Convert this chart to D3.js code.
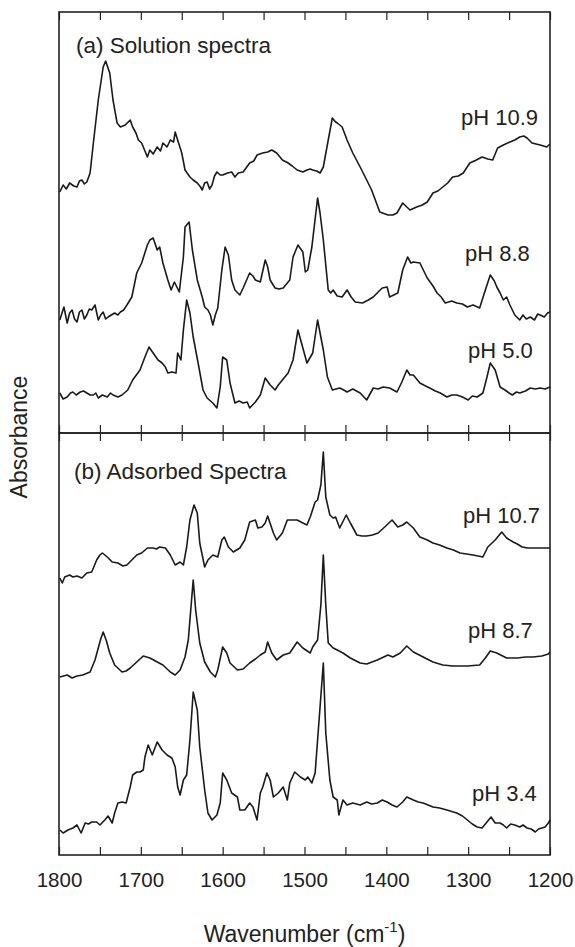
<!DOCTYPE html>
<html>
  <head>
    <meta charset="utf-8">
    <title>IR spectra</title>
    <script type="text/javascript" src="https://d3js.org/d3.v7.min.js"></script>
    <style>
      body{margin:0;background:#fff;}
      text{font-family:"Liberation Sans",Arial,Helvetica,sans-serif;fill:#222;}
    </style>
  </head>
  <body>
    <svg width="575" height="947"></svg>
    <script>
    	// x ticks (wavenumber, cm-1)
    	var xTicks = [1800,1750,1700,1650,1600,1550,1500,1450,1400,1350,1300,1250,1200];
    	var xTickLabels = [1800,1700,1600,1500,1400,1300,1200];

    	// (a) solution spectra : [wavenumber, absorbance (a.u., stacked)]
    	var sol109 = [[1799,241],[1795,248],[1791,244],[1787,250],[1782,247],[1778,246],[1775,252],[1772,253],[1769,249],[1766,251],[1762,260],[1758,290],[1752,333],[1746,366],[1743,372],[1738,360],[1734,333],[1729,310],[1725,306],[1719,308],[1713,313],[1710,306],[1706,300],[1703,293],[1699,290],[1695,282],[1692,276],[1689,283],[1685,279],[1680,286],[1676,282],[1673,290],[1668,286],[1664,293],[1660,291],[1658,301],[1655,293],[1650,280],[1646,263],[1640,256],[1636,253],[1631,250],[1627,246],[1625,243],[1622,250],[1619,251],[1616,244],[1613,248],[1610,257],[1607,261],[1603,258],[1600,258],[1594,260],[1589,261],[1585,256],[1581,260],[1575,261],[1567,270],[1562,272],[1558,278],[1551,280],[1545,281],[1540,283],[1534,280],[1527,273],[1520,270],[1515,267],[1509,263],[1502,261],[1497,263],[1493,264],[1490,263],[1485,262],[1481,260],[1477,266],[1471,293],[1466,315],[1462,311],[1460,310],[1454,306],[1448,293],[1441,280],[1432,266],[1424,253],[1418,243],[1408,221],[1398,218],[1392,218],[1387,220],[1380,230],[1375,226],[1371,223],[1363,226],[1356,228],[1350,231],[1343,240],[1337,242],[1331,246],[1325,250],[1319,256],[1312,257],[1306,260],[1298,270],[1290,273],[1283,276],[1276,274],[1270,273],[1264,285],[1257,288],[1249,291],[1243,293],[1237,296],[1232,297],[1228,295],[1222,290],[1217,289],[1212,288],[1204,286],[1200,289]];
    	var sol88 = [[1799,113],[1794,126],[1790,110],[1787,120],[1784,123],[1781,114],[1778,111],[1775,121],[1772,123],[1769,114],[1766,118],[1763,124],[1760,123],[1756,128],[1752,113],[1749,118],[1746,121],[1743,114],[1740,116],[1736,118],[1732,120],[1728,118],[1725,121],[1721,123],[1717,128],[1711,136],[1705,160],[1699,170],[1692,188],[1689,193],[1685,195],[1682,188],[1680,183],[1677,186],[1673,170],[1667,153],[1663,143],[1659,151],[1656,146],[1653,141],[1648,176],[1646,206],[1641,211],[1637,183],[1631,153],[1625,136],[1622,126],[1618,123],[1615,118],[1612,108],[1609,118],[1606,125],[1601,163],[1597,186],[1593,178],[1589,153],[1585,143],[1579,138],[1575,145],[1567,160],[1563,157],[1560,153],[1554,151],[1548,173],[1545,166],[1542,153],[1536,145],[1531,144],[1526,145],[1518,153],[1514,176],[1508,188],[1502,181],[1499,161],[1496,163],[1491,186],[1487,214],[1484,235],[1481,220],[1477,193],[1471,143],[1468,140],[1465,143],[1460,137],[1454,136],[1448,143],[1443,136],[1438,131],[1429,130],[1422,133],[1416,136],[1410,141],[1405,145],[1399,146],[1396,136],[1386,140],[1380,163],[1374,176],[1370,170],[1367,171],[1359,170],[1350,155],[1343,147],[1338,140],[1333,136],[1328,130],[1320,132],[1314,130],[1307,129],[1301,126],[1294,128],[1286,125],[1279,143],[1273,158],[1268,152],[1265,146],[1261,140],[1257,133],[1253,136],[1249,128],[1243,118],[1237,113],[1233,118],[1229,114],[1224,116],[1219,113],[1215,119],[1212,118],[1207,116],[1203,120],[1200,121]];
    	var sol50 = [[1799,40],[1795,34],[1790,36],[1786,40],[1783,41],[1779,38],[1774,41],[1770,42],[1766,40],[1762,38],[1758,38],[1755,40],[1752,35],[1747,38],[1741,36],[1737,40],[1734,38],[1728,36],[1723,38],[1716,43],[1710,53],[1701,63],[1695,76],[1690,86],[1685,80],[1679,73],[1674,70],[1670,66],[1667,60],[1662,61],[1657,60],[1655,80],[1651,73],[1648,103],[1644,133],[1640,120],[1636,96],[1630,70],[1624,43],[1619,35],[1612,30],[1607,25],[1603,46],[1600,76],[1595,73],[1591,50],[1585,30],[1580,32],[1575,30],[1570,31],[1567,25],[1560,31],[1554,38],[1548,55],[1542,48],[1536,43],[1532,48],[1527,53],[1520,60],[1514,73],[1508,103],[1503,88],[1497,70],[1490,80],[1484,113],[1477,83],[1472,56],[1466,43],[1457,45],[1452,43],[1448,41],[1441,44],[1432,40],[1424,33],[1416,45],[1410,44],[1404,46],[1396,45],[1387,41],[1381,51],[1375,63],[1371,58],[1367,58],[1359,50],[1352,47],[1347,45],[1340,42],[1334,40],[1326,36],[1320,38],[1314,38],[1307,36],[1300,33],[1295,37],[1289,36],[1282,40],[1277,56],[1273,70],[1267,63],[1261,46],[1255,43],[1250,40],[1246,38],[1241,41],[1237,40],[1230,42],[1224,45],[1218,44],[1212,45],[1206,44],[1200,46]];

    	// (b) adsorbed spectra
    	var ads107 = [[1799,277],[1796,272],[1793,278],[1787,280],[1783,278],[1778,279],[1772,277],[1766,282],[1760,283],[1754,295],[1750,300],[1747,302],[1744,300],[1741,298],[1735,293],[1728,292],[1722,289],[1717,290],[1711,295],[1705,300],[1699,302],[1692,307],[1685,307],[1681,306],[1677,308],[1670,307],[1664,300],[1658,290],[1652,293],[1648,290],[1644,308],[1640,335],[1635,350],[1631,342],[1628,312],[1622,288],[1618,295],[1612,300],[1606,298],[1601,315],[1598,318],[1593,308],[1587,303],[1579,307],[1573,315],[1567,333],[1560,335],[1557,327],[1552,328],[1548,332],[1545,339],[1538,322],[1534,315],[1527,322],[1521,335],[1515,335],[1509,335],[1502,332],[1497,330],[1493,338],[1487,353],[1484,355],[1480,370],[1477,403],[1474,358],[1469,340],[1465,337],[1462,338],[1457,327],[1449,340],[1444,332],[1436,320],[1430,319],[1424,319],[1417,320],[1410,322],[1402,328],[1393,335],[1386,328],[1380,330],[1375,333],[1367,327],[1359,318],[1350,315],[1343,312],[1335,310],[1326,307],[1318,305],[1310,302],[1302,301],[1294,300],[1288,299],[1282,298],[1276,308],[1267,315],[1259,323],[1253,317],[1245,313],[1240,311],[1234,308],[1227,307],[1221,307],[1210,307],[1200,307]];
    	var ads87 = [[1799,178],[1790,180],[1784,177],[1778,179],[1771,180],[1762,183],[1756,195],[1752,207],[1749,216],[1746,223],[1742,214],[1738,202],[1732,190],[1723,183],[1718,184],[1713,187],[1705,193],[1697,199],[1689,197],[1680,193],[1673,190],[1664,183],[1658,180],[1652,185],[1646,198],[1642,215],[1639,245],[1636,275],[1633,245],[1628,212],[1622,193],[1615,183],[1609,178],[1606,185],[1600,208],[1595,202],[1591,192],[1582,185],[1575,186],[1567,192],[1560,196],[1554,200],[1548,203],[1545,213],[1540,202],[1534,195],[1526,200],[1518,202],[1509,213],[1502,207],[1493,202],[1490,208],[1484,215],[1480,250],[1477,300],[1474,250],[1471,212],[1465,207],[1460,205],[1453,202],[1444,197],[1432,192],[1424,191],[1411,195],[1398,200],[1392,198],[1383,202],[1375,209],[1367,203],[1355,198],[1343,193],[1331,190],[1319,189],[1301,189],[1286,190],[1279,197],[1273,204],[1265,202],[1253,197],[1240,197],[1230,198],[1221,198],[1210,199],[1202,201],[1200,203]];
    	var ads34 = [[1799,25],[1795,22],[1789,25],[1783,27],[1778,30],[1773,22],[1768,32],[1764,31],[1760,33],[1754,33],[1750,30],[1744,35],[1740,39],[1735,32],[1732,42],[1728,52],[1723,53],[1718,52],[1713,68],[1710,80],[1705,83],[1701,83],[1697,85],[1695,98],[1691,110],[1686,100],[1680,113],[1674,105],[1668,100],[1662,97],[1658,88],[1655,68],[1652,60],[1648,75],[1644,80],[1640,115],[1636,163],[1631,145],[1628,108],[1622,65],[1618,42],[1613,35],[1607,40],[1603,52],[1600,82],[1595,75],[1589,62],[1582,58],[1579,45],[1573,45],[1567,52],[1563,48],[1558,35],[1554,62],[1551,68],[1546,82],[1542,75],[1538,58],[1532,62],[1526,68],[1521,55],[1518,72],[1512,83],[1505,78],[1499,75],[1496,78],[1491,72],[1487,82],[1484,115],[1477,192],[1474,122],[1469,75],[1465,58],[1460,55],[1458,40],[1453,55],[1448,50],[1441,52],[1432,50],[1424,53],[1418,51],[1411,52],[1405,55],[1399,53],[1393,50],[1387,48],[1380,53],[1375,58],[1367,55],[1361,53],[1355,52],[1349,50],[1343,48],[1335,47],[1326,45],[1314,42],[1307,39],[1301,35],[1295,31],[1289,28],[1283,27],[1277,33],[1272,38],[1267,32],[1261,32],[1257,30],[1253,27],[1248,31],[1243,30],[1237,28],[1233,30],[1228,27],[1223,26],[1218,23],[1214,26],[1210,27],[1206,28],[1202,32],[1200,35]];

    	var solSeries = [sol109, sol88, sol50];
    	var adsSeries = [ads107, ads87, ads34];
    	var solNames = ["pH 10.9","pH 8.8","pH 5.0"];
    	var adsNames = ["pH 10.7","pH 8.7","pH 3.4"];

    	// layout
    	var svg = d3.select("svg");
    	var left = 59, right = 550;
    	var panelA = {top:12, bottom:433};
    	var panelB = {top:433, bottom:855};
    	var tickLen = 8;

    	var x = d3.scaleLinear().domain([1800,1200]).range([left,right]);
    	var yA = d3.scaleLinear().domain([0,421]).range([panelA.bottom,panelA.top]);
    	var yB = d3.scaleLinear().domain([0,422]).range([panelB.bottom,panelB.top]);

    	function drawPanel(p, yScale, series){
    		var g = svg.append("g");
    		g.append("rect")
    			.attr("x",left)
    			.attr("y",p.top)
    			.attr("width",right-left)
    			.attr("height",p.bottom-p.top)
    			.attr("fill","none")
    			.attr("stroke","#222")
    			.attr("stroke-width",1.6);

    		// inward ticks on top and bottom
    		g.append("g")
    			.attr("transform","translate(0,"+p.bottom+")")
    			.call(d3.axisBottom(x).tickValues(xTicks).tickSizeInner(-tickLen).tickSizeOuter(0).tickFormat(""))
    			.call(function(a){ a.select(".domain").remove(); a.selectAll("line").attr("stroke","#222").attr("stroke-width",1.2); });
    		g.append("g")
    			.attr("transform","translate(0,"+p.top+")")
    			.call(d3.axisTop(x).tickValues(xTicks).tickSizeInner(-tickLen).tickSizeOuter(0).tickFormat(""))
    			.call(function(a){ a.select(".domain").remove(); a.selectAll("line").attr("stroke","#222").attr("stroke-width",1.2); });

    		var line = d3.line()
    			.x(function(d){ return x(d[0]); })
    			.y(function(d){ return yScale(d[1]); });

    		g.selectAll("path.spec")
    			.data(series)
    			.enter()
    			.append("path")
    			.attr("class","spec")
    			.attr("d",line)
    			.attr("fill","none")
    			.attr("stroke","#1a1a1a")
    			.attr("stroke-width",1.6)
    			.attr("stroke-linejoin","round");
    	}

    	drawPanel(panelA, yA, solSeries);
    	drawPanel(panelB, yB, adsSeries);

    	// tick labels
    	svg.append("g")
    		.attr("transform","translate(0,"+panelB.bottom+")")
    		.call(d3.axisBottom(x).tickValues(xTickLabels).tickSize(0).tickPadding(32).tickFormat(d3.format("d")))
    		.call(function(a){
    			a.select(".domain").remove();
    			a.selectAll("text").attr("font-size",20.5).attr("fill","#222").attr("dy",0)
    				.style("font-family","'Liberation Sans',Arial,sans-serif");
    		});

    	// titles and labels
    	var labelPos = [
    		{t:"(a) Solution spectra", x:76, y:53, s:22.5},
    		{t:solNames[0], x:461, y:125, s:22},
    		{t:solNames[1], x:465, y:261, s:22},
    		{t:solNames[2], x:468, y:358, s:22},
    		{t:"(b) Adsorbed Spectra", x:74, y:479, s:22.5},
    		{t:adsNames[0], x:463, y:523, s:22},
    		{t:adsNames[1], x:468, y:638, s:22},
    		{t:adsNames[2], x:472, y:801, s:22}
    	];
    	svg.selectAll(".lbl")
    		.data(labelPos)
    		.enter()
    		.append("text")
    		.attr("class","lbl")
    		.attr("x",function(d){ return d.x; })
    		.attr("y",function(d){ return d.y; })
    		.attr("font-size",function(d){ return d.s; })
    		.text(function(d){ return d.t; });

    	var xt = svg.append("text")
    		.attr("x",(left+right)/2)
    		.attr("y",942)
    		.attr("text-anchor","middle")
    		.attr("font-size",23);
    	xt.append("tspan").text("Wavenumber (cm");
    	xt.append("tspan").attr("font-size",15).attr("dy",-10).text("-1");
    	xt.append("tspan").attr("dy",10).text(")");

    	svg.append("text")
    		.attr("transform","translate(27,437) rotate(-90)")
    		.attr("text-anchor","middle")
    		.attr("font-size",23)
    		.text("Absorbance");
    </script>
  </body>
</html>
